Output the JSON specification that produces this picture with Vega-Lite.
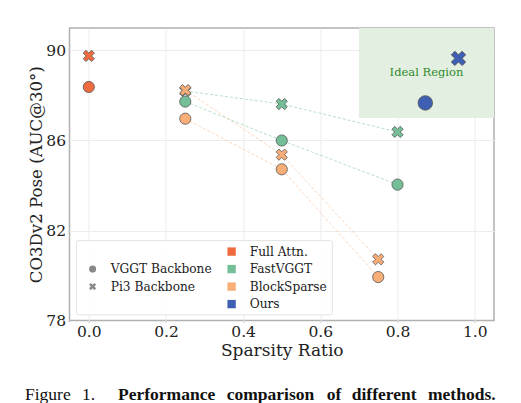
{
 "$schema":"https://vega.github.io/schema/vega-lite/v6.json",
 "width":424.5,"height":292.5,
 "autosize":"none",
 "padding":{"left":69.5,"top":28,"right":27,"bottom":82.5},
 "background":"white",
 "config":{"font":"DejaVu Serif","view":{"stroke":"#b0b0b0","strokeWidth":1.5}},
 "datasets":{"rows":[
  {"method":"Full Attn.","backbone":"VGGT Backbone","sparsity":0,"auc":88.38},
  {"method":"Full Attn.","backbone":"Pi3 Backbone","sparsity":0,"auc":89.76},
  {"method":"FastVGGT","backbone":"Pi3 Backbone","sparsity":0.25,"auc":88.2},
  {"method":"FastVGGT","backbone":"Pi3 Backbone","sparsity":0.5,"auc":87.62},
  {"method":"FastVGGT","backbone":"Pi3 Backbone","sparsity":0.8,"auc":86.38},
  {"method":"FastVGGT","backbone":"VGGT Backbone","sparsity":0.25,"auc":87.73},
  {"method":"FastVGGT","backbone":"VGGT Backbone","sparsity":0.5,"auc":86.0},
  {"method":"FastVGGT","backbone":"VGGT Backbone","sparsity":0.8,"auc":84.04},
  {"method":"BlockSparse","backbone":"VGGT Backbone","sparsity":0.25,"auc":86.97},
  {"method":"BlockSparse","backbone":"VGGT Backbone","sparsity":0.5,"auc":84.72},
  {"method":"BlockSparse","backbone":"VGGT Backbone","sparsity":0.75,"auc":79.93},
  {"method":"BlockSparse","backbone":"Pi3 Backbone","sparsity":0.25,"auc":88.24},
  {"method":"BlockSparse","backbone":"Pi3 Backbone","sparsity":0.5,"auc":85.37},
  {"method":"BlockSparse","backbone":"Pi3 Backbone","sparsity":0.75,"auc":80.72},
  {"method":"Ours","backbone":"VGGT Backbone","sparsity":0.872,"auc":87.67},
  {"method":"Ours","backbone":"Pi3 Backbone","sparsity":0.958,"auc":89.65}
 ],"one":[{"note":"annotation"}]},
 "layer":[
  {"data":{"name":"one"},"mark":{"type":"rect","fill":"#e3efe0","stroke":null},
   "encoding":{"x":{"datum":0.7,"type":"quantitative","scale":{"domain":[-0.05,1.05],"nice":false,"zero":false},
     "axis":{"title":"Sparsity Ratio","values":[0,0.2,0.4,0.6,0.8,1.0],"format":".1f","ticks":true,"tickSize":2,"tickColor":"#cccccc","domain":false,"grid":true,"gridColor":"#ececec","gridWidth":1,"labelFontSize":15.5,"labelColor":"#222","labelPadding":2,"titleFontSize":17,"titleFontWeight":"normal","titleColor":"#222","titlePadding":2}},
    "x2":{"datum":1.05},
    "y":{"datum":87,"type":"quantitative","scale":{"domain":[78,91],"nice":false,"zero":false},
     "axis":{"title":"CO3Dv2 Pose (AUC@30°)","values":[78,82,86,90],"ticks":true,"tickSize":2,"tickColor":"#cccccc","domain":false,"grid":true,"gridColor":"#ececec","gridWidth":1,"labelFontSize":15.5,"labelColor":"#222","labelPadding":2,"titleFontSize":16.6,"titleFontWeight":"normal","titleColor":"#222","titlePadding":1}},
    "y2":{"datum":91}}},
  {"data":{"name":"rows"},"mark":{"type":"line","strokeDash":[3,2],"strokeWidth":1,"opacity":0.5,"stroke":"#74bf98"},
   "transform":[{"filter":"datum.method==='FastVGGT'"}],
   "encoding":{"x":{"field":"sparsity","type":"quantitative"},"y":{"field":"auc","type":"quantitative"},"detail":{"field":"backbone"}}},
  {"data":{"name":"rows"},"mark":{"type":"line","strokeDash":[3,2],"strokeWidth":1,"opacity":0.5,"stroke":"#f9ae78"},
   "transform":[{"filter":"datum.method==='BlockSparse'"}],
   "encoding":{"x":{"field":"sparsity","type":"quantitative"},"y":{"field":"auc","type":"quantitative"},"detail":{"field":"backbone"}}},
  {"data":{"name":"rows"},"mark":{"type":"point","filled":true,"opacity":1,"stroke":"#555555","strokeWidth":0.8,"size":125},
   "transform":[{"filter":"datum.method!=='Ours'"}],
   "encoding":{"x":{"field":"sparsity","type":"quantitative"},"y":{"field":"auc","type":"quantitative"},
    "fill":{"field":"method","type":"nominal","scale":{"domain":["Full Attn.","FastVGGT","BlockSparse","Ours"],"range":["#ef6a3f","#74bf98","#f9ae78","#3f60b2"]},
     "legend":{"title":null,"orient":"none","legendX":156,"legendY":217.5,"symbolType":"square","symbolSize":70,"symbolStrokeWidth":0,"labelFontSize":12.2,"labelColor":"#222","labelOffset":12,"rowPadding":4.5,"zindex":2}},
    "shape":{"field":"backbone","type":"nominal","scale":{"domain":["VGGT Backbone","Pi3 Backbone"],"range":["circle","M-1 -0.5 L-0.5 -1 L0 -0.5 L0.5 -1 L1 -0.5 L0.5 0 L1 0.5 L0.5 1 L0 0.5 L-0.5 1 L-1 0.5 L-0.5 0 Z"]},
     "legend":{"title":null,"orient":"none","legendX":17,"legendY":235,"symbolSize":50,"symbolFillColor":"#888888","symbolStrokeColor":"#888888","symbolStrokeWidth":0,"labelFontSize":12.2,"labelColor":"#222","labelOffset":12,"rowPadding":4.5,"zindex":2}}}},
  {"data":{"name":"rows"},"mark":{"type":"point","filled":true,"opacity":1,"stroke":"#555555","strokeWidth":0.8,"size":210},
   "transform":[{"filter":"datum.method==='Ours'"}],
   "encoding":{"x":{"field":"sparsity","type":"quantitative"},"y":{"field":"auc","type":"quantitative"},
    "fill":{"field":"method","type":"nominal"},
    "shape":{"field":"backbone","type":"nominal"}}},
  {"data":{"name":"one"},"mark":{"type":"text","text":"Ideal Region","color":"#2e8b2e","fontSize":11.5,"font":"DejaVu Serif"},
   "encoding":{"x":{"datum":0.875},"y":{"datum":88.98}}},
  {"data":{"name":"one"},"mark":{"type":"rect","fill":"white","fillOpacity":0.85,"stroke":"#e2e2e2","strokeWidth":1,"cornerRadius":2},
   "encoding":{"x":{"datum":-0.032},"x2":{"datum":0.631},"y":{"datum":78.25},"y2":{"datum":81.55}}},
  {"data":{"name":"one"},"mark":{"type":"text","text":"Figure","font":"Liberation Serif","fontSize":17.5,"color":"#111","align":"left","baseline":"alphabetic"},
   "encoding":{"x":{"datum":-0.1653},"y":{"datum":74.47}}},
  {"data":{"name":"one"},"mark":{"type":"text","text":"1.","font":"Liberation Serif","fontSize":17.5,"color":"#111","align":"left","baseline":"alphabetic"},
   "encoding":{"x":{"datum":-0.0176},"y":{"datum":74.47}}},
  {"data":{"name":"one"},"mark":{"type":"text","text":"Performance","font":"Liberation Serif","fontSize":17.5,"fontWeight":"bold","color":"#111","align":"left","baseline":"alphabetic"},
   "encoding":{"x":{"datum":0.0757},"y":{"datum":74.47}}},
  {"data":{"name":"one"},"mark":{"type":"text","text":"comparison","font":"Liberation Serif","fontSize":17.5,"fontWeight":"bold","color":"#111","align":"left","baseline":"alphabetic"},
   "encoding":{"x":{"datum":0.3574},"y":{"datum":74.47}}},
  {"data":{"name":"one"},"mark":{"type":"text","text":"of","font":"Liberation Serif","fontSize":17.5,"fontWeight":"bold","color":"#111","align":"left","baseline":"alphabetic"},
   "encoding":{"x":{"datum":0.6165},"y":{"datum":74.47}}},
  {"data":{"name":"one"},"mark":{"type":"text","text":"different","font":"Liberation Serif","fontSize":17.5,"fontWeight":"bold","color":"#111","align":"left","baseline":"alphabetic"},
   "encoding":{"x":{"datum":0.6813},"y":{"datum":74.47}}},
  {"data":{"name":"one"},"mark":{"type":"text","text":"methods.","font":"Liberation Serif","fontSize":17.5,"fontWeight":"bold","color":"#111","align":"left","baseline":"alphabetic"},
   "encoding":{"x":{"datum":0.879},"y":{"datum":74.47}}}
 ]
}
